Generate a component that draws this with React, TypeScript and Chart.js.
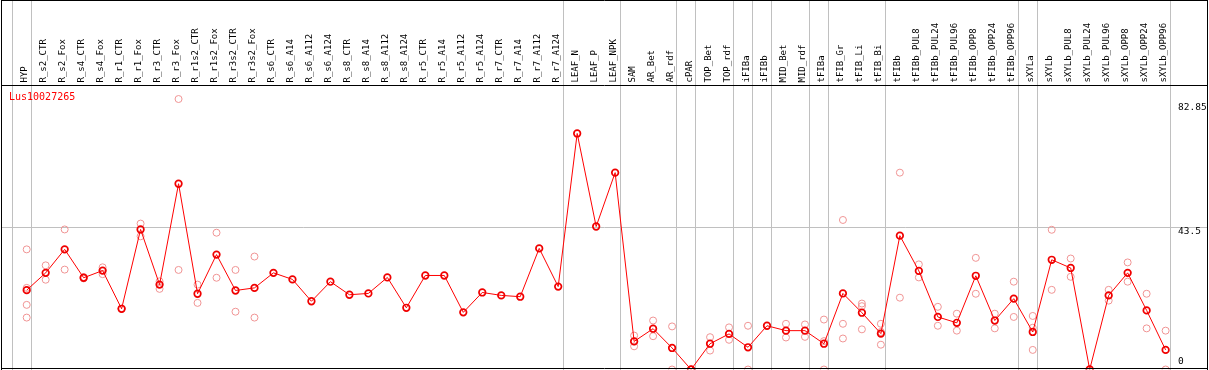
import React, { useEffect, useRef } from "react";
import { Chart, registerables } from "chart.js";

Chart.register(...registerables);

const geneName = "Lus10027265";

const categories = [
  "HYP", "R_s2_CTR", "R_s2_Fox", "R_s4_CTR", "R_s4_Fox", "R_r1_CTR", "R_r1_Fox", "R_r3_CTR", "R_r3_Fox",
  "R_r1s2_CTR", "R_r1s2_Fox", "R_r3s2_CTR", "R_r3s2_Fox", "R_s6_CTR", "R_s6_A14", "R_s6_A112", "R_s6_A124",
  "R_s8_CTR", "R_s8_A14", "R_s8_A112", "R_s8_A124", "R_r5_CTR", "R_r5_A14", "R_r5_A112", "R_r5_A124",
  "R_r7_CTR", "R_r7_A14", "R_r7_A112", "R_r7_A124", "LEAF_N", "LEAF_P", "LEAF_NPK", "SAM", "AR_Bet", "AR_rdf",
  "cPAR", "TOP_Bet", "TOP_rdf", "iFIBa", "iFIBb", "MID_Bet", "MID_rdf", "tFIBa", "tFIB_Gr", "tFIB_Li", "tFIB_Bi",
  "tFIBb", "tFIBb_PUL8", "tFIBb_PUL24", "tFIBb_PUL96", "tFIBb_OPP8", "tFIBb_OPP24", "tFIBb_OPP96",
  "sXYLa", "sXYLb", "sXYLb_PUL8", "sXYLb_PUL24", "sXYLb_PUL96", "sXYLb_OPP8", "sXYLb_OPP24", "sXYLb_OPP96",
];

const means = [
  24.3, 29.6, 36.8, 28.1, 30.3, 18.6, 42.9, 26.0, 56.9, 23.2,
  35.2, 24.2, 25.0, 29.6, 27.6, 20.9, 26.9, 22.9, 23.3, 28.2,
  18.9, 28.8, 28.8, 17.5, 23.6, 22.7, 22.3, 37.1, 25.4, 72.3,
  43.8, 60.3, 8.6, 12.5, 6.6, 0, 7.9, 10.9, 6.8, 13.4,
  11.9, 11.9, 7.9, 23.3, 17.4, 11.0, 41.0, 30.2, 16.1, 14.3,
  28.7, 15.0, 21.7, 11.5, 33.6, 31.1, 0, 22.7, 29.6, 18.1, 6.0,
];

const replicates: number[][] = [
  [36.8, 25.0, 19.8, 15.9], [31.9, 27.5], [42.9, 30.6], [28.3, 27.9], [31.3, 29.2],
  [18.6, 18.6], [44.7, 40.8], [27.0, 24.7], [82.85, 30.5], [26.0, 20.4],
  [41.9, 28.1], [30.5, 17.7], [34.6, 15.9], [], [],
  [], [], [], [], [],
  [], [], [], [], [],
  [], [], [], [], [],
  [], [], [10.4, 8.6, 7.1], [15.0, 10.2], [13.2, 0],
  [0, 0], [9.9, 5.8], [12.9, 9.1], [13.4, 0], [],
  [14.0, 9.8], [13.8, 10.0], [15.3, 8.7, 0], [45.8, 14.0, 9.5], [20.2, 19.4, 12.3],
  [14.0, 11.5, 7.6], [60.3, 22.0], [32.2, 28.2], [19.2, 13.4], [17.1, 11.9],
  [34.2, 23.2], [17.1, 12.6], [26.9, 16.1], [16.4, 12.8, 6.0], [42.8, 24.4],
  [34.0, 28.4], [0, 0], [24.4, 21.1], [32.8, 26.9], [23.2, 12.6], [11.9, 0],
];

// index of the last category of each group (separator drawn right after it)
const groupEnds = [-1, 0, 28, 31, 34, 35, 37, 38, 39, 41, 42, 45, 52, 53, 60];

const yTickValues = [82.85, 43.5, 0];
const yTickLabels = ["82.85", "43.5", "0"];
const dataMax = 82.85;

export default function App() {
  const ref = useRef<HTMLCanvasElement>(null);

  useEffect(() => {
    const canvas = ref.current;
    if (!canvas) return;

    const decor = {
      id: "decor",
      beforeDatasetsDraw(chart: any) {
        const ctx = chart.ctx;
        const xs = chart.scales.x;
        const ys = chart.scales.y;
        const a = chart.chartArea;
        ctx.save();
        ctx.strokeStyle = "#c0c0c0";
        ctx.lineWidth = 1;
        for (const g of groupEnds) {
          const x = Math.round(xs.getPixelForValue(g + 0.23)) + 0.5;
          ctx.beginPath();
          ctx.moveTo(x, 0);
          ctx.lineTo(x, chart.height);
          ctx.stroke();
        }
        const ym = Math.round(ys.getPixelForValue(yTickValues[1])) + 0.5;
        ctx.beginPath();
        ctx.moveTo(a.left, ym);
        ctx.lineTo(a.right, ym);
        ctx.stroke();
        ctx.restore();
      },
      afterDraw(chart: any) {
        const ctx = chart.ctx;
        const xs = chart.scales.x;
        const ys = chart.scales.y;
        const a = chart.chartArea;
        ctx.save();
        // frame
        ctx.strokeStyle = "#000";
        ctx.lineWidth = 1;
        ctx.beginPath();
        ctx.moveTo(1.5, 0.5);
        ctx.lineTo(1207.5, 0.5);
        ctx.moveTo(1.5, 0);
        ctx.lineTo(1.5, chart.height);
        ctx.moveTo(1207.5, 0);
        ctx.lineTo(1207.5, chart.height);
        ctx.moveTo(1.5, Math.floor(a.top) + 0.5);
        ctx.lineTo(1207.5, Math.floor(a.top) + 0.5);
        ctx.moveTo(1.5, Math.floor(a.bottom) - 0.5);
        ctx.lineTo(1207.5, Math.floor(a.bottom) - 0.5);
        ctx.stroke();

        // header labels (rotated)
        ctx.fillStyle = "#000";
        ctx.font = "9px 'DejaVu Sans Mono'";
        ctx.textAlign = "left";
        ctx.textBaseline = "alphabetic";
        categories.forEach((c, i) => {
          const x = xs.getPixelForValue(i) + 0.5;
          ctx.save();
          ctx.translate(x, a.top - 3);
          ctx.rotate(-Math.PI / 2);
          ctx.fillText(c, 0, 0);
          ctx.restore();
        });

        // gene name
        ctx.fillStyle = "#ff0000";
        ctx.font = "10px 'DejaVu Sans Mono'";
        ctx.textBaseline = "middle";
        ctx.fillText(geneName, a.left + 7, a.top + 12);

        // y labels
        ctx.fillStyle = "#000";
        ctx.font = "9.5px 'DejaVu Sans Mono'";
        const offs = [9, 4.5, -7.5];
        yTickValues.forEach((v, k) => {
          const y = ys.getPixelForValue(v) + offs[k];
          ctx.fillText(yTickLabels[k], 1178, y);
        });
        ctx.restore();
      },
    };

    const repPoints: { x: number; y: number }[] = [];
    replicates.forEach((arr, i) => arr.forEach((v) => repPoints.push({ x: i, y: v })));

    const chart = new Chart(canvas, {
      type: "line",
      data: {
        datasets: [
          {
            data: means.map((v, i) => ({ x: i, y: v })),
            borderColor: "#ff0000",
            borderWidth: 1,
            pointRadius: 3.3,
            pointBorderWidth: 1.7,
            pointBorderColor: "#f00000",
            pointBackgroundColor: "rgba(0,0,0,0)",
            tension: 0,
            order: 0,
          },
          {
            data: repPoints,
            showLine: false,
            borderColor: "#f09494",
            pointRadius: 3.5,
            pointBorderWidth: 1,
            pointBorderColor: "#f09494",
            pointBackgroundColor: "rgba(0,0,0,0)",
            order: 1,
          },
        ],
      },
      options: {
        animation: false,
        responsive: false,
        maintainAspectRatio: false,
        devicePixelRatio: 1,
        layout: { autoPadding: false, padding: { left: 2, right: 2, top: 85.5, bottom: 0.5 } },
        plugins: { legend: { display: false }, tooltip: { enabled: false } },
        scales: {
          x: { type: "linear", min: -1.301, max: 62.18, display: false },
          y: { type: "linear", min: 0, max: dataMax * 1.05, display: false },
        },
      },
      plugins: [decor],
    });

    return () => chart.destroy();
  }, []);

  return (
    <div style={{ position: "absolute", left: 0, top: 0, width: 1209, height: 370, background: "#fff" }}>
      <canvas ref={ref} width={1209} height={370} style={{ width: 1209, height: 370, display: "block" }} />
    </div>
  );
}
